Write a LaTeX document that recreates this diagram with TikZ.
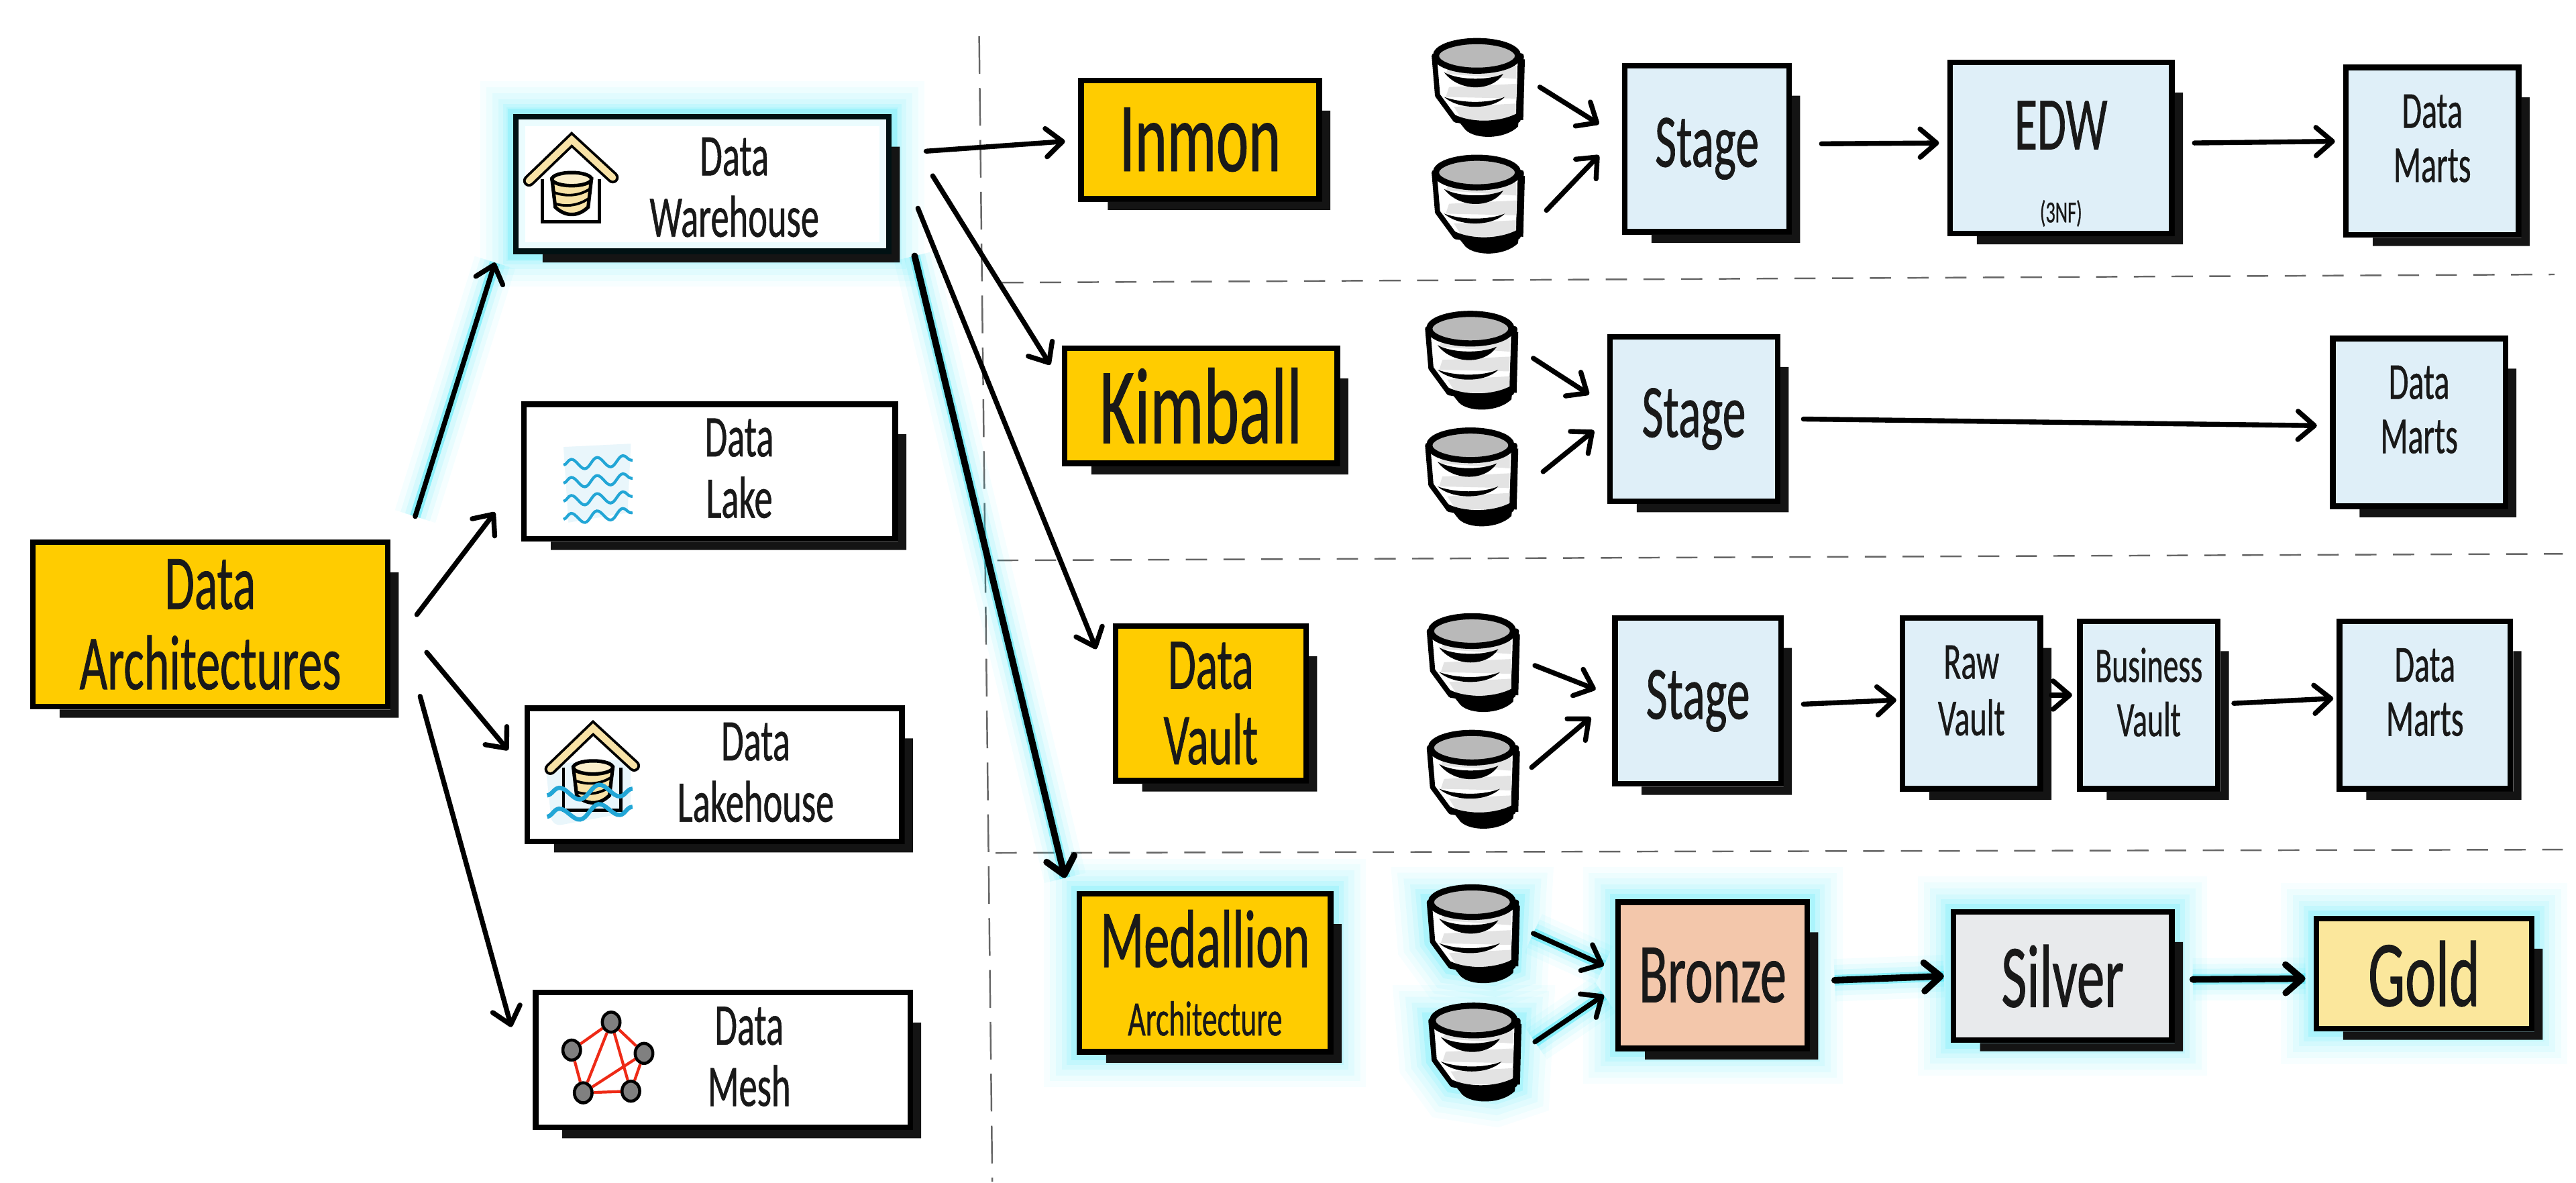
\documentclass[tikz,border=0pt]{standalone}
\usepackage{fontspec}
\setmainfont[FakeStretch=.62,FakeBold=.6]{Carlito}
\usetikzlibrary{arrows.meta, calc, shapes.geometric, decorations.pathmorphing}
\def\un{0.0244898cm}
\definecolor{archYellow}{HTML}{FFCC00}
\definecolor{stageBlue}{HTML}{DFEFF8}
\definecolor{bronzeFill}{HTML}{F3C7AB}
\definecolor{silverFill}{HTML}{E8EAEC}
\definecolor{goldFill}{HTML}{FBE79C}
\definecolor{glowCyan}{HTML}{00DDF5}
\definecolor{roofYellow}{HTML}{F8E2A6}
\definecolor{waveBlue}{HTML}{22A6D6}
\definecolor{meshRed}{HTML}{EE2A16}
\definecolor{canGrey}{HTML}{B9B9B9}
\newcommand{\liftup}{\rule[-11pt]{0pt}{0pt}}
\tikzset{
  box/.style={draw=black, line width=2.4pt, line join=miter, fill=#1, inner sep=0pt, align=center},
  box/.default=white,
  span/.style 2 args={minimum width=#1*\un, minimum height=#2*\un},
  hand/.style 2 args={font=\fontsize{#1}{#2}\selectfont, align=center, inner sep=0pt, text=black!90},
  glow/.style={preaction={draw=glowCyan, draw opacity=.03, line width=30pt},
    preaction={draw=glowCyan, draw opacity=.04, line width=25pt},
    preaction={draw=glowCyan, draw opacity=.05, line width=20pt},
    preaction={draw=glowCyan, draw opacity=.06, line width=15pt},
    preaction={draw=glowCyan, draw opacity=.08, line width=11pt},
    preaction={draw=glowCyan, draw opacity=.12, line width=7pt}},
  flow/.style={->, line width=2.1pt, line cap=round},
  heavy/.style={line width=2.8pt},
  lineglow/.style={preaction={draw=glowCyan, draw opacity=.04, line width=18pt, -},
    preaction={draw=glowCyan, draw opacity=.06, line width=13pt, -},
    preaction={draw=glowCyan, draw opacity=.08, line width=9pt, -},
    preaction={draw=glowCyan, draw opacity=.35, line width=4.5pt, -}},
  divider/.style={draw=black!60, line width=.7pt, dash pattern=on 9pt off 7pt},
  shadowpart/.style={fill=black!92},
  canspot/.style={minimum width=56*\un, minimum height=58*\un, inner sep=0pt},
  canbody/.style={draw=black, line width=2.2pt, fill=white, line join=round},
  wave/.style={draw=waveBlue, line width=1.2pt, decorate,
    decoration={snake, amplitude=2.2pt, segment length=11pt}},
  meshdot/.style={ellipse, draw=black, line width=1.3pt, fill=black!50, inner sep=0pt,
    minimum width=7.5pt, minimum height=8.5pt},
  meshedge/.style={draw=meshRed, line width=1.2pt},
}
\newcommand{\dbcanat}[4][]{
  \node (#2) at (#3,#4) [canspot]{};
  \begin{scope}[shift={(#3,#4)}]
    \draw[canbody,#1] (-27,-19) -- (-25,5) -- (-14,20) -- (12,24) -- (24,20) -- (26,-19) -- cycle;
    \fill[canGrey!40] (-18,-13) -- (23,-13) -- (23,-5) -- (-20,-8) -- cycle;
    \fill[canGrey!40] (-18,0) -- (23,-2) -- (23,7) -- (-20,6) -- cycle;
    \fill[canGrey!40] (-15,12) -- (23,10) -- (23,20) -- (-10,20) -- cycle;
    \draw[line width=2.6pt, fill=canGrey] (-1,-19) ellipse [x radius=25, y radius=9];
    \fill[black] (-21,-9) .. controls (-12,-4) and (6,-4) .. (15,-8) .. controls (8,3) and (-12,3) .. cycle;
    \fill[black] (-21,6) .. controls (-10,10) and (6,10) .. (16,6) .. controls (8,14) and (-12,14) .. cycle;
    \fill[black] (-16,16) .. controls (-6,22) and (14,22) .. (25,15) -- (24,24) .. controls (16,32) and (-2,32) .. (-8,26) -- cycle;
    \draw[line width=3pt] (26,-17) -- (25,20);
  \end{scope}
}
\newcommand{\dbhouse}[2]{
  \begin{scope}[shift={(#1,#2)}]
    \draw[line width=1.4pt, line join=miter] (-18,24) -- (-18,50) -- (17,50) -- (17,24);
    \draw[line width=5pt, line cap=round, line join=miter] (-26,25) -- (0,0) -- (25,23);
    \draw[roofYellow, line width=2.8pt, line cap=round, line join=miter] (-26,25) -- (0,0) -- (25,23);
    \draw[line width=1.5pt, fill=roofYellow] (-12,24) -- (-10,41) .. controls (-4,47) and (4,47) .. (10,41) -- (12,24) -- cycle;
    \draw[line width=1.5pt, fill=roofYellow!60] (0,24) ellipse [x radius=12, y radius=4];
    \draw[line width=1.1pt] (-11,32) .. controls (-3,35) and (5,34) .. (11,30);
    \draw[line width=1.1pt] (-10,39) .. controls (-3,41) and (4,40) .. (10,36);
  \end{scope}
}

\begin{document}
\begin{tikzpicture}[x=0.0244898cm, y=-0.0244898cm, >={Straight Barb[length=7pt, width=12pt, round]}]
\useasboundingbox (0,0) rectangle (1568,719.5);

\coordinate (vTop) at (596,22);
\coordinate (vBot) at (604,719);
\coordinate (hOneL) at (610,172);
\coordinate (hOneR) at (1555,167);
\coordinate (hTwoL) at (607,341);
\coordinate (hTwoR) at (1560,337);
\coordinate (hThreeL) at (606,519);
\coordinate (hThreeR) at (1560,517);
\draw[divider, dash pattern=on 16pt off 6pt] (vTop) -- (vBot);
\draw[divider] (hOneL) -- (hOneR);
\draw[divider] (hTwoL) -- (hTwoR);
\draw[divider] (hThreeL) -- (hThreeR);

\node (arch) at (128,380) [box=archYellow, span={216}{100}, hand={33}{34}]{Data\\Architectures};

\node (warehouse) at (427.5,112) [box, glow, span={227}{82},
  postaction={draw=glowCyan, draw opacity=.08, line width=8pt}]{};
\node (lake) at (432,287) [box, span={226}{82}]{};
\node (lakehouse) at (435,471.5) [box, span={228}{81}]{};
\node (mesh) at (440,645) [box, span={228}{82}]{};
\node (warehouseText) at (447,114) [hand={25}{26}]{Data\\Warehouse};
\node (lakeText) at (450,285) [hand={25}{26}]{Data\\Lake};
\node (lakehouseText) at (460,470) [hand={25}{26}]{Data\\Lakehouse};
\node (meshText) at (456,643) [hand={25}{26}]{Data\\Mesh};

\node (inmon) at (730.5,85) [box=archYellow, span={145}{72}, hand={42}{30}]{Inmon};
\node (kimball) at (731,247) [box=archYellow, span={166}{70}, hand={46}{30}]{Kimball};
\node (vault) at (737,428) [box=archYellow, span={116}{94}, hand={31}{32}]{Data\\Vault};
\node (medallion) at (733.5,592) [box=archYellow, glow, span={153}{96}, hand={35}{30}]{Medallion\\[-1pt]{\fontsize{21}{21}\selectfont Architecture}};

\node (stageA) at (1039,90.5) [box=stageBlue, span={100}{101}, hand={32}{24}]{Stage};
\node (edw) at (1254.5,90) [box=stageBlue, span={135}{104}, hand={32}{30}]{\rule{0pt}{34pt}EDW\\[1pt]{\fontsize{13}{13}\selectfont (3NF)}};
\node (martsA) at (1480.5,92) [box=stageBlue, span={105}{102}, hand={22}{23}]{Data\\Marts\liftup};
\node (stageB) at (1031,255) [box=stageBlue, span={102}{100}, hand={32}{24}]{Stage};
\node (martsB) at (1472.5,257) [box=stageBlue, span={105}{102}, hand={22}{23}]{Data\\Marts\liftup};
\node (stageC) at (1033.5,426.5) [box=stageBlue, span={101}{101}, hand={32}{24}]{Stage};
\node (rawvault) at (1200,428) [box=stageBlue, span={84}{104}, hand={22}{24}]{Raw\\Vault\liftup};
\node (bizvault) at (1308,429) [box=stageBlue, span={84}{102}, hand={21}{23}]{Business\\Vault\liftup};
\node (martsC) at (1476,429) [box=stageBlue, span={104}{102}, hand={22}{23}]{Data\\Marts\liftup};
\node (bronze) at (1042.5,593.5) [box=bronzeFill, glow, span={115}{89}, hand={36}{24}]{Bronze};
\node (silver) at (1255.5,594) [box=silverFill, glow, span={133}{78}, hand={38}{24}]{Silver};
\node (gold) at (1475.5,592.5) [box=goldFill, glow, span={131}{67}, hand={40}{24}]{Gold};

\foreach \n in {arch,warehouse,lake,lakehouse,mesh,inmon,kimball,vault,medallion,stageA,edw,martsA,stageB,martsB,stageC,rawvault,bizvault,martsC,bronze,silver,gold}
  \fill[shadowpart] ([shift={(18,0)}]\n.south west) -- ([shift={(18,5)}]\n.south west) -- ([shift={(5,5)}]\n.south east) -- ([shift={(5,20)}]\n.north east) -- ([shift={(0,20)}]\n.north east) -- (\n.south east) -- cycle;

\dbcanat{canAa}{900}{53}
\dbcanat{canAb}{900}{124}
\dbcanat{canBa}{896}{219}
\dbcanat{canBb}{896}{290}
\dbcanat{canCa}{897}{403}
\dbcanat{canCb}{897}{474}
\dbcanat[glow]{canDa}{897}{568}
\dbcanat[glow]{canDb}{898}{640}

\draw[flow, lineglow] ([shift={(15,-14)}]arch.north east) -- ([shift={(-11,5)}]warehouse.south west);
\draw[flow] ([shift={(16,-6)}]arch.east) -- ([shift={(-16,-18)}]lake.south west);
\draw[flow] ([shift={(22,17)}]arch.east) -- ([shift={(-10,-15)}]lakehouse.west);
\draw[flow] ([shift={(18,-8)}]arch.south east) -- ([shift={(-13,-20)}]mesh.west);
\draw[flow] ([shift={(21,-20)}]warehouse.east) -- ([shift={(-8,1)}]inmon.west);
\draw[flow] ([shift={(25,-5)}]warehouse.east) -- ([shift={(-7,-25)}]kimball.west);
\draw[flow] ([shift={(16,-28)}]warehouse.south east) -- ([shift={(-10,-33)}]vault.west);
\draw[flow, heavy, lineglow] ([shift={(14,1)}]warehouse.south east) -- ([shift={(-7,-8)}]medallion.north west);

\draw[flow] ([shift={(9,0)}]canAa.east) -- ([shift={(-14,-15)}]stageA.west);
\draw[flow] ([shift={(13,4)}]canAb.east) -- ([shift={(-14,4)}]stageA.west);
\draw[flow] ([shift={(9,-1)}]canBa.east) -- ([shift={(-11,-15)}]stageB.west);
\draw[flow] ([shift={(15,-3)}]canBb.east) -- ([shift={(-8,7)}]stageB.west);
\draw[flow] ([shift={(9,2)}]canCa.east) -- ([shift={(-10,-7)}]stageC.west);
\draw[flow] ([shift={(7,-7)}]canCb.east) -- ([shift={(-13,10)}]stageC.west);
\draw[flow, lineglow] ([shift={(8,0)}]canDa.east) -- ([shift={(-7,-6)}]bronze.west);
\draw[flow, lineglow] ([shift={(8,-6)}]canDb.east) -- ([shift={(-7,12)}]bronze.west);

\draw[flow] ([shift={(18,-3)}]stageA.east) -- ([shift={(-5,-3)}]edw.west);
\draw[flow] ([shift={(12,-3)}]edw.east) -- ([shift={(-5,-6)}]martsA.west);
\draw[flow] ([shift={(14,0)}]stageB.east) -- ([shift={(-8,2)}]martsB.west);
\draw[flow] ([shift={(12,2)}]stageC.east) -- ([shift={(-2,-2)}]rawvault.west);
\draw[flow] ([shift={(5,-5)}]rawvault.east) -- ([shift={(-3,-6)}]bizvault.west);
\draw[flow] ([shift={(8,-1)}]bizvault.east) -- ([shift={(-2,-4)}]martsC.west);
\draw[flow, heavy, lineglow] ([shift={(15,3)}]bronze.east) -- ([shift={(-4,0)}]silver.west);
\draw[flow, heavy, lineglow] ([shift={(11,2)}]silver.east) -- ([shift={(-5,3)}]gold.west);

\dbhouse{348}{85}

\fill[waveBlue!10] (343,272) -- (384,270) -- (382,312) -- (346,318) -- cycle;
\foreach \ya/\yb in {283/280,294/291,305/302,316/312}
  \draw[wave] (343,\ya) -- (385,\yb);

\fill[waveBlue!10, rounded corners=4pt] (332,465) -- (384,462) -- (384,494) -- (336,503) -- cycle;
\dbhouse{361}{443}
\draw[wave, line width=1.8pt, decoration={amplitude=2.8pt, segment length=17pt}] (333,484) -- (385,480);
\draw[wave, line width=1.8pt, decoration={amplitude=2.8pt, segment length=17pt}] (333,497) -- (385,491);

\node (meshA) at (372,622) [meshdot]{};
\node (meshB) at (392,641) [meshdot]{};
\node (meshC) at (384,664) [meshdot]{};
\node (meshD) at (355,665) [meshdot]{};
\node (meshE) at (348,639) [meshdot]{};
\foreach \a/\b in {meshA/meshB,meshB/meshC,meshC/meshD,meshD/meshE,meshE/meshA,meshA/meshD,meshA/meshC,meshB/meshD}
  \draw[meshedge] (\a) -- (\b);
\end{tikzpicture}
\end{document}
